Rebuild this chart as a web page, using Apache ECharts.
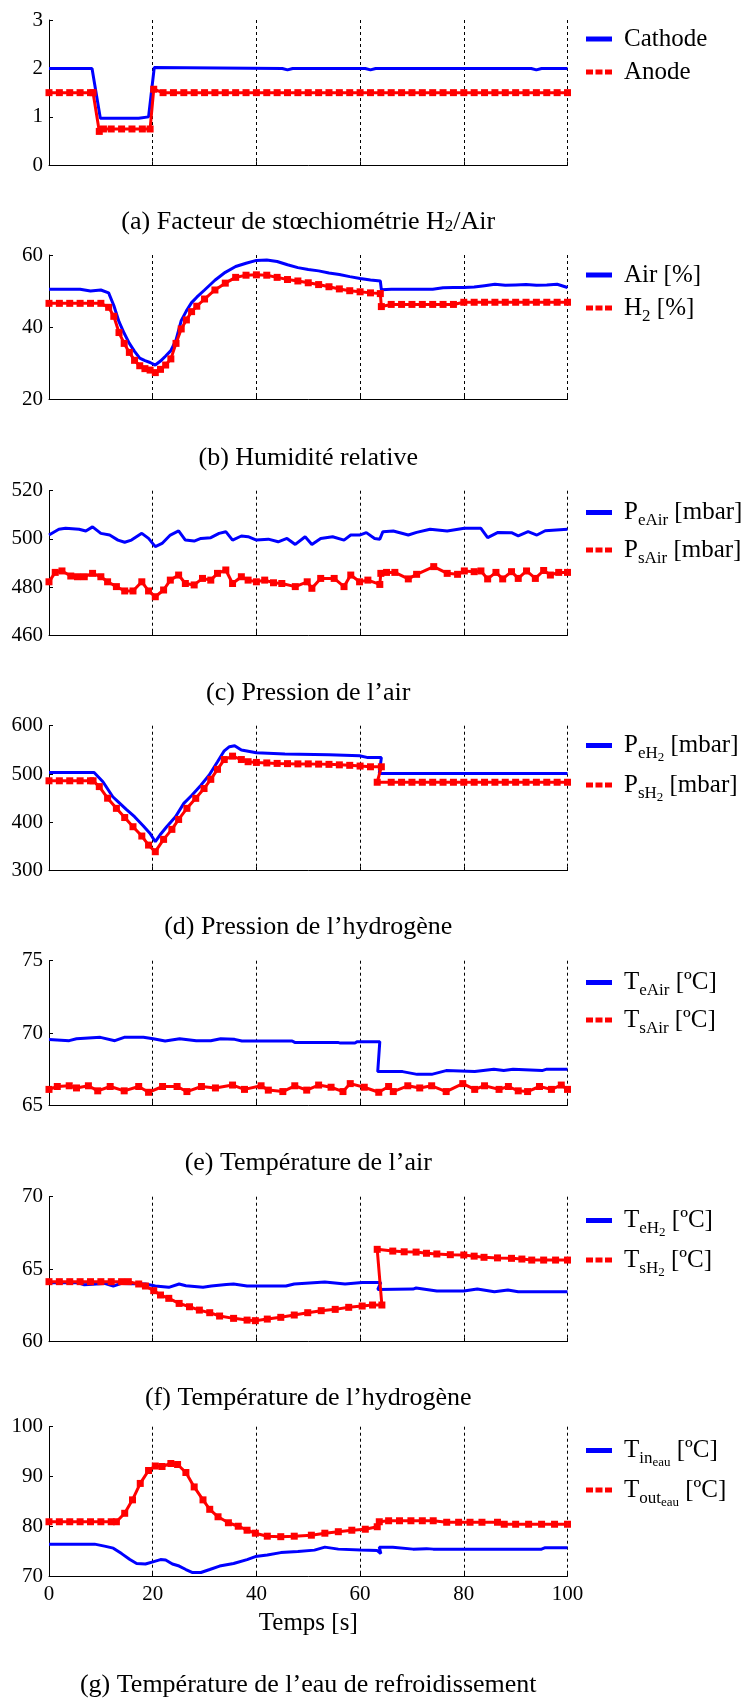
<!DOCTYPE html>
<html><head><meta charset="utf-8">
<script src="https://cdn.jsdelivr.net/npm/echarts@6/dist/echarts.min.js"></script>
<style>html,body{margin:0;padding:0;background:#fff}#c{width:753px;height:1701px}</style>
</head><body><div id="c"></div>
<script>
// ---------- DATA ----------
const xTicks = [0, 20, 40, 60, 80, 100];

// (a) Facteur de stoechiometrie
const tCath = [0,8.3,9.9,17.3,17.5,19.2,20.3,45,46,47,61,62,63,93,94,95,100];
const cath  = [2,2,0.97,0.97,1.0,1.0,2.02,2,1.97,2,2,1.97,2,2,1.97,2,2];
const tAnode = [0,2,4,6,8,8.5,9.7,10.5,12,14,16,18,19.5,20.2,22,24,26,28,30,32,34,36,38,40,42,44,46,48,50,52,54,56,58,60,62,64,66,68,70,72,74,76,78,80,82,84,86,88,90,92,94,96,98,100];
const anode  = [1.5,1.5,1.5,1.5,1.5,1.5,0.7,0.75,0.75,0.75,0.75,0.75,0.75,1.57,1.5,1.5,1.5,1.5,1.5,1.5,1.5,1.5,1.5,1.5,1.5,1.5,1.5,1.5,1.5,1.5,1.5,1.5,1.5,1.5,1.5,1.5,1.5,1.5,1.5,1.5,1.5,1.5,1.5,1.5,1.5,1.5,1.5,1.5,1.5,1.5,1.5,1.5,1.5,1.5];

// (b) Humidite relative
const tHum = [0,2,4,6,8,10,11.5,12.5,13.5,14.5,15.5,16.5,17.5,18.5,19.5,20.5,21.5,22.5,23.5,24.5,25.5,26.5,27.5,28.5,30,32,34,36,38,40,42,44,46,48,50,52,54,56,58,60,62,63.9,64.1,66,68,70,72,74,76,78,80,82,84,86,88,90,92,94,96,98,100];
const humAir = [50.5,50.5,50.5,50.5,50.0,50.3,49.5,46,41.5,38.3,35.5,33.3,31.4,30.7,30.2,29.5,30.6,32,33.5,36.5,41.8,44.5,46.8,48.3,50.3,53,55.2,56.8,57.7,58.5,58.6,58.2,57.3,56.5,56,55.6,55,54.6,54,53.5,53.1,52.8,50.4,50.5,50.5,50.5,50.5,50.5,50.9,51,51,51.1,51.5,51.9,51.6,51.7,51.8,51.6,51.7,51.9,51];
const humH2  = [46.6,46.6,46.6,46.6,46.6,46.6,45.5,43,38.5,35.5,33,30.8,29.3,28.5,28.1,27.4,28.3,29.5,31.2,35.5,39.5,42,44.3,45.8,47.8,50.3,52.2,53.8,54.4,54.5,54.4,53.8,53.2,52.8,52.3,51.8,51.2,50.6,50.1,49.8,49.5,49.3,45.7,46.3,46.3,46.3,46.3,46.3,46.3,46.3,46.9,46.9,46.9,46.9,46.9,46.9,46.9,46.9,46.9,46.9,46.9];

// (c) Pression de l'air
const tPeAir = [0,1.9,3.2,5.8,7.1,8.4,10,11.7,13.3,14.6,15.9,17.9,19.2,20.5,21.8,23.4,25,26.3,28,29.3,31.2,32.8,34.1,35.4,37.1,38.4,40,42.3,44.2,45.9,47.5,49.4,50.7,52.4,54.7,56.9,58.2,59.9,61.2,62.8,63.8,64.4,66.4,69.3,70.9,73.5,76.8,80.1,83.3,84.6,86.6,89.2,90.5,92.4,94.1,95.7,100];
const peAir  = [501.6,504,504.4,504,503.3,505,502.3,501.6,499.5,498.6,499.5,502.3,500.2,496.8,498.1,501.6,503.3,499.5,499.1,500.2,500.5,502.3,503,499.5,501.2,500.9,499.5,499.9,498.8,500.2,497.7,500.9,497.7,500.2,500.9,499.5,501.6,501.6,502.6,500.2,499.9,503,503.3,501.6,502.7,504,503.3,504.4,504.4,500.5,502.7,502.6,501.3,503,501.6,503.4,504];
const tPsAir = [0,1.2,2.5,4.2,5.5,6.8,8.4,10,11.3,13,14.6,16.2,17.9,19.2,20.5,22.1,23.4,25,26.3,28,29.6,31.2,32.5,34.1,35.4,37.1,38.4,40,41.6,43.3,44.9,47.5,49.8,50.7,52.4,55,56.9,58.2,59.9,61.5,63.8,64,65.1,66.7,69.3,70.9,74.2,76.8,78.8,80.1,82,83.3,84.6,86.2,87.5,89.2,90.5,92.1,93.8,95.4,96.7,98.3,100];
const psAir  = [482.2,486.1,486.7,484.6,484.3,484.3,485.7,484.3,482.2,480.2,478.4,478.4,482.2,478.4,476,478.8,482.9,485,481.5,480.9,483.6,482.9,485.7,487.1,481.5,484.3,482.9,482.2,482.9,481.8,481.5,480.2,482.2,479.5,483.6,483.6,480.2,485,482.2,482.9,481.1,485.7,486.1,486.1,483.4,485.3,488.5,485.7,485.3,486.7,486.4,486.7,483.4,486.1,483.4,486.4,483.6,486.7,483.6,486.9,485,486.1,486.1];

// (d) Pression de l'hydrogene
const tPeH2 = [0,8.7,10.4,12.3,13.3,14.9,16.5,18.2,19.5,20.5,21.4,22.7,24.4,26,27.6,29.3,30.9,32.5,33.8,34.8,35.8,37.1,40,45.5,54,59.9,61.5,64.1,63.7,100];
const peH2  = [503,503,484,453,443,427,411.7,392.4,377,360,373.8,391,411.7,439.3,456.6,477,498,525.5,548,556.6,558.6,549.7,544,541.4,540,538,534,534,501,501];
const tPsH2 = [0,2,4,6,8,8.5,9.7,11.3,13,14.6,16.2,17.9,19.2,20.5,22.1,23.7,25,26.6,28.3,29.9,31.2,32.5,33.8,35.4,37.1,38.4,40,42,44,46,48,50,52,54,56,58,60,62,64.1,63.3,66,68,70,72,74,76,78,80,82,84,86,88,90,92,94,96,98,100];
const psH2  = [486,486,486,486,486,486,474,450,429,410,391,371.7,353,339.3,364.8,385.5,406,429,449.7,470,489,509.7,530,537,530,525.5,524,523,522,521.5,521,521,520.5,520,519,518,516.5,515,515,483,483,483,483,483,483,483,483,483,483,483,483,483,483,483,483,483,483,483];

// (e) Temperature de l'air
const tTeAir = [0,3.9,5.3,9.9,12.7,14.5,18.2,20.1,22.4,25.2,28.4,31.2,33.1,35.8,37.2,46.9,47.4,55.7,56.2,59,59.4,63.8,63.4,68.2,71,73.8,76.6,82.1,85.8,87.7,89.5,95.1,96,100];
const teAir  = [69.55,69.47,69.6,69.7,69.47,69.7,69.7,69.6,69.45,69.6,69.47,69.47,69.6,69.56,69.45,69.45,69.35,69.35,69.3,69.3,69.4,69.4,67.33,67.33,67.14,67.14,67.4,67.33,67.5,67.4,67.5,67.4,67.5,67.5];
const tTsAir = [0,1.6,3.9,5.3,7.6,9.4,11.8,14.5,17.3,19.2,21.9,24.7,26.6,29.4,32.1,35.4,37.7,40.9,42.3,45.1,47.4,49.7,52,54.4,56.7,58.1,60.8,63.6,65.5,66.4,69.2,71.5,73.8,76.6,79.8,82.1,84,86.8,88.6,90.5,92.3,94.6,96.9,98.8,100];
const tsAir  = [66.1,66.3,66.35,66.2,66.35,66.0,66.3,66.0,66.3,65.9,66.3,66.3,65.95,66.3,66.2,66.4,66.1,66.35,66.05,65.95,66.35,66.05,66.4,66.25,65.95,66.5,66.25,65.9,66.3,65.95,66.35,66.2,66.35,65.95,66.5,66.1,66.35,66.1,66.3,66.0,65.95,66.3,66.1,66.4,66.1];

// (f) Temperature de l'hydrogene
const tTeH2 = [0,5.5,6.8,10.7,12.4,14,18.6,20.5,23.1,25.1,26.4,29.7,31.3,34.2,35.6,38.2,45.7,47.3,53.2,57.1,60.4,64,63.4,70.2,70.8,74.8,80,82.6,85.9,88.5,90.5,100];
const teH2  = [64.07,64.07,63.93,64.02,63.84,64.02,63.98,63.84,63.75,63.98,63.86,63.75,63.84,63.95,63.98,63.84,63.84,63.98,64.11,63.98,64.09,64.09,63.6,63.63,63.7,63.49,63.49,63.63,63.45,63.56,63.45,63.45];
const tTsH2 = [0,2,4,6,8,10,12,14,15.3,17.3,18.6,20.2,21.5,23.1,25.1,27.1,29,31,32.9,35.6,38.2,39.8,42.1,44.7,47.3,49.9,52.5,55.2,57.8,60.4,62.4,64.2,63.3,66.3,68.5,70.8,72.8,74.8,77.4,80,82,83.9,86.5,89.2,91.2,93.1,95.4,97.7,100];
const tsH2  = [64.14,64.14,64.14,64.14,64.14,64.14,64.14,64.14,64.14,63.98,63.84,63.52,63.22,62.99,62.64,62.41,62.18,62.0,61.77,61.61,61.49,61.45,61.56,61.68,61.84,62.0,62.14,62.23,62.37,62.46,62.53,62.53,66.37,66.25,66.2,66.18,66.1,66.05,66.0,65.98,65.9,65.82,65.78,65.75,65.7,65.63,65.63,65.63,65.63];

// (g) Temperature de l'eau de refroidissement
const tTin = [0,8.8,10.7,12.4,14,15.6,16.9,18.6,20.2,21.5,22.5,23.8,25.1,26.4,27.7,29.3,31,32.9,35.6,38.2,39.8,42.1,44.7,48,51.2,53.2,55.8,60.1,63.3,64,63.7,66.3,70.2,72.8,74.1,95,95.7,100];
const tIn  = [76.4,76.4,76,75.6,74.5,73.3,72.5,72.4,72.9,73.3,73.2,72.4,72,71.3,70.7,70.7,71.3,72,72.5,73.3,73.9,74.2,74.7,74.9,75.2,75.8,75.4,75.2,75.1,74.5,75.8,75.8,75.4,75.5,75.4,75.4,75.7,75.7];
const tTout = [0,2,4,6,8,10,12,13,14.6,16.1,17.6,19.2,20.5,21.8,23.5,24.8,26.4,28,29.7,31,32.6,34.6,36.5,38.2,39.8,42.1,44.7,47.3,50.6,53.2,55.8,58.4,61,63.3,63.7,65.5,67.6,69.8,72,74.1,76.7,79,81.2,83.5,86.5,87.8,90,92.5,95,97.5,100];
const tOut  = [80.9,80.9,80.9,80.9,80.9,80.9,80.9,80.9,82.6,85.3,88.6,91.2,92.1,92,92.6,92.4,90.8,87.9,85.3,83.4,81.9,80.7,80,79.2,78.6,78,77.9,78,78.2,78.6,78.9,79.2,79.4,79.9,80.9,81.1,81.1,81.1,81.1,81.1,80.8,80.8,80.8,80.8,80.8,80.4,80.4,80.4,80.4,80.4,80.4];

// y tick ranges per panel
const yMin = [0, 20, 460, 300, 65, 60, 70];
const yMax = [3, 60, 520, 600, 75, 70, 100];
const yStep = [1, 20, 20, 100, 5, 5, 10];

// labels
const captions = [
  '(a) Facteur de stœchiométrie H{sub|2}/Air',
  '(b) Humidité relative',
  '(c) Pression de l’air',
  '(d) Pression de l’hydrogène',
  '(e) Température de l’air',
  '(f) Température de l’hydrogène',
  '(g) Température de l’eau de refroidissement'
];
const legendLabels = {
  Cathode: '{m|Cathode}', Anode: '{m|Anode}',
  Air: '{m|Air [%]}', H2: '{m|H}{s|2}{m| [%]}',
  PeAir: '{m|P}{s|eAir}{m| [mbar]}', PsAir: '{m|P}{s|sAir}{m| [mbar]}',
  PeH2: '{m|P}{s|eH}{ss|2}{m| [mbar]}', PsH2: '{m|P}{s|sH}{ss|2}{m| [mbar]}',
  TeAir: '{m|T}{s|eAir}{m| [ºC]}', TsAir: '{m|T}{s|sAir}{m| [ºC]}',
  TeH2: '{m|T}{s|eH}{ss|2}{m| [ºC]}', TsH2: '{m|T}{s|sH}{ss|2}{m| [ºC]}',
  Tin: '{m|T}{s|in}{ss|eau}{m| [ºC]}', Tout: '{m|T}{s|out}{ss|eau}{m| [ºC]}'
};
const xName = 'Temps [s]';

// ---------- LAYOUT ----------
const FONT = '"Liberation Serif","Times New Roman",serif';
const BLUE = '#0000ff', RED = '#ff0000';
const gridTop = [20, 255, 490.7, 725.7, 960.7, 1196.7, 1426.7];
const gridH = [145.3, 144.3, 144.6, 145, 144.6, 145, 149.3];
const legTop = [26.5, 262.5, 500, 733, 970, 1208, 1438];
const capY = [222, 458, 693, 927, 1163, 1398, 1685];
const GL = 49, GW = 518.5;

const pairs = [
  [['Cathode', tCath, cath], ['Anode', tAnode, anode]],
  [['Air', tHum, humAir], ['H2', tHum, humH2]],
  [['PeAir', tPeAir, peAir], ['PsAir', tPsAir, psAir]],
  [['PeH2', tPeH2, peH2], ['PsH2', tPsH2, psH2]],
  [['TeAir', tTeAir, teAir], ['TsAir', tTsAir, tsAir]],
  [['TeH2', tTeH2, teH2], ['TsH2', tTsH2, tsH2]],
  [['Tin', tTin, tIn], ['Tout', tTout, tOut]]
];

const ICON_SOLID = 'path://M0,0h26v5h-26z';
const ICON_DOT = 'path://M0,0h7v5h-7zM9.5,0h7v5h-7zM19,0h7v5h-7z';

const grids = [], xAxes = [], yAxes = [], series = [], legends = [], graphics = [];
for (let i = 0; i < 7; i++) {
  const last = i === 6;
  grids.push({ left: GL, top: gridTop[i], width: GW, height: gridH[i], containLabel: false });
  xAxes.push({
    type: 'value', gridIndex: i, min: xTicks[0], max: xTicks[xTicks.length - 1], interval: 20,
    axisLine: { show: true, onZero: false, lineStyle: { color: '#000', width: 1 } },
    axisTick: { show: true, inside: true, length: 4, lineStyle: { color: '#000' } },
    axisLabel: { show: last, margin: 8, color: '#000', fontFamily: FONT, fontSize: 21 },
    splitLine: { show: true, lineStyle: { color: '#000', width: 1, type: [3, 3] } },
    name: last ? xName : '', nameLocation: 'middle', nameGap: 35,
    nameTextStyle: { color: '#000', fontFamily: FONT, fontSize: 25 }
  });
  yAxes.push({
    type: 'value', gridIndex: i, min: yMin[i], max: yMax[i], interval: yStep[i],
    axisLine: { show: true, onZero: false, lineStyle: { color: '#000', width: 1 } },
    axisTick: { show: true, inside: true, length: 4, lineStyle: { color: '#000' } },
    axisLabel: { margin: 6, color: '#000', fontFamily: FONT, fontSize: 21 },
    splitLine: { show: false }
  });
  const [b, r] = pairs[i];
  series.push({
    name: b[0], type: 'line', xAxisIndex: i, yAxisIndex: i,
    data: b[1].map((x, k) => [x, b[2][k]]),
    showSymbol: false, symbol: 'none',
    lineStyle: { color: BLUE, width: 3 }, itemStyle: { color: BLUE },
    emphasis: { disabled: true }, z: 2
  });
  series.push({
    name: r[0], type: 'line', xAxisIndex: i, yAxisIndex: i,
    data: r[1].map((x, k) => [x, r[2][k]]),
    showSymbol: true, symbol: 'rect', symbolSize: 7,
    lineStyle: { color: RED, width: 3 }, itemStyle: { color: RED },
    emphasis: { disabled: true }, z: 3
  });
  legends.push({
    orient: 'vertical', left: 586, top: legTop[i], padding: 0, itemGap: 8,
    itemWidth: 26, itemHeight: 5, selectedMode: false,
    data: [{ name: b[0], icon: ICON_SOLID }, { name: r[0], icon: ICON_DOT }],
    formatter: n => legendLabels[n],
    textStyle: {
      color: '#000', fontFamily: FONT, fontSize: 25, padding: [0, 0, 0, 7],
      rich: {
        m: { fontFamily: FONT, fontSize: 25, lineHeight: 38, verticalAlign: 'middle', color: '#000' },
        s: { fontFamily: FONT, fontSize: 17, verticalAlign: 'bottom', padding: [0, 0, 2, 0], color: '#000' },
        ss: { fontFamily: FONT, fontSize: 13, verticalAlign: 'bottom', color: '#000' }
      }
    }
  });
  graphics.push({
    type: 'text', x: GL + GW / 2, y: capY[i], silent: true,
    style: {
      text: captions[i], fill: '#000', align: 'center', verticalAlign: 'middle',
      font: '26px ' + FONT,
      rich: {
        sub: { fontFamily: FONT, fontSize: 17, verticalAlign: 'bottom', fill: '#000' }
      }
    }
  });
}

const chart = echarts.init(document.getElementById('c'), null, { renderer: 'canvas' });
chart.setOption({
  animation: false,
  backgroundColor: '#fff',
  grid: grids, xAxis: xAxes, yAxis: yAxes, series: series, legend: legends,
  graphic: graphics,
  tooltip: { show: false }
});
</script>
</body></html>
